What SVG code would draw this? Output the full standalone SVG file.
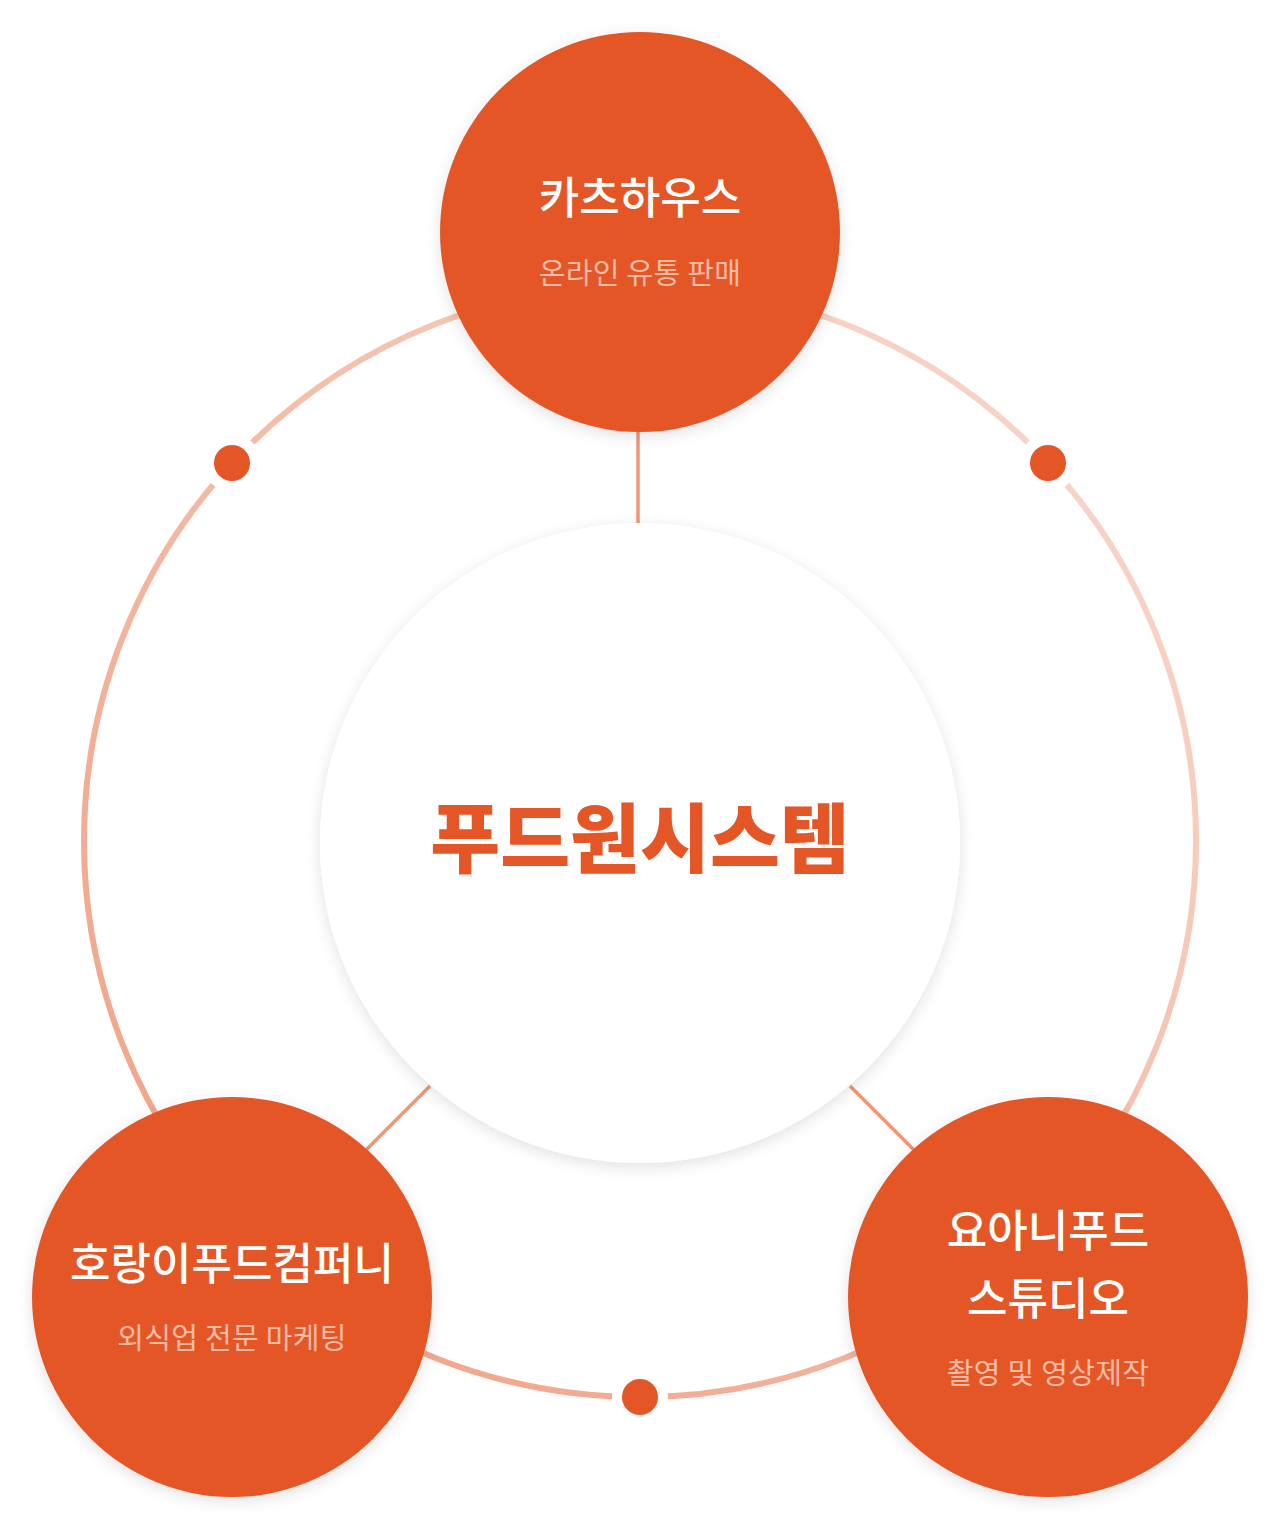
<svg xmlns="http://www.w3.org/2000/svg" width="1280" height="1530" viewBox="0 0 1280 1530">
<defs>
<linearGradient id="ringGrad" x1="0" y1="1" x2="1" y2="0">
<stop offset="0" stop-color="#f09e80"/>
<stop offset="0.5" stop-color="#f4bba6"/>
<stop offset="1" stop-color="#f9ddd2"/>
</linearGradient>
<filter id="shadow" x="-20%" y="-20%" width="140%" height="140%">
<feGaussianBlur in="SourceAlpha" stdDeviation="8"/>
<feOffset dx="0" dy="4"/>
<feComponentTransfer><feFuncA type="linear" slope="0.12"/></feComponentTransfer>
<feMerge><feMergeNode/><feMergeNode in="SourceGraphic"/></feMerge>
</filter>
<style>
.node{fill:#e55627;filter:url(#shadow);}
.title{font-family:"Noto Sans CJK KR","Noto Sans",sans-serif;font-weight:500;fill:#ffffff;font-size:44px;text-anchor:middle;}
.sub{font-family:"Noto Sans CJK KR","Noto Sans",sans-serif;font-weight:400;fill:#f7bca6;font-size:29px;text-anchor:middle;letter-spacing:0.3px;}
.conn{stroke:#f0977a;stroke-width:3.5;fill:none;}
.dot{fill:#e55627;}
.gap{fill:#ffffff;}
</style>
</defs>
<rect width="1280" height="1530" fill="#ffffff"/>
<g id="ring">
<circle cx="640" cy="841" r="556" fill="none" stroke="url(#ringGrad)" stroke-width="6"/>
<circle class="gap" cx="232" cy="463" r="29"/>
<circle class="gap" cx="1048" cy="463" r="29"/>
<circle class="gap" cx="640" cy="1397" r="28"/>
<circle class="dot" cx="232" cy="463" r="18"/>
<circle class="dot" cx="1048" cy="463" r="18"/>
<circle class="dot" cx="640" cy="1397" r="18"/>
</g>
<g id="connectors">
<line class="conn" x1="638" y1="430" x2="638" y2="523"/>
<line class="conn" x1="430" y1="1086" x2="366" y2="1150"/>
<line class="conn" x1="850" y1="1086" x2="914" y2="1150"/>
</g>
<g id="center">
<circle cx="640" cy="843" r="320" fill="#ffffff" filter="url(#shadow)"/>
<text x="640" y="867" font-family="'Noto Sans CJK KR',sans-serif" font-weight="900" font-size="76" fill="#e55627" text-anchor="middle">푸드원시스템</text>
</g>
<g id="node-top">
<circle class="node" cx="640" cy="232" r="200"/>
<text class="title" x="640" y="214">카츠하우스</text>
<text class="sub" x="640" y="284">온라인 유통 판매</text>
</g>
<g id="node-left">
<circle class="node" cx="232" cy="1297" r="200"/>
<text class="title" x="232" y="1280">호랑이푸드컴퍼니</text>
<text class="sub" x="232" y="1349">외식업 전문 마케팅</text>
</g>
<g id="node-right">
<circle class="node" cx="1048" cy="1297" r="200"/>
<text class="title" x="1048" y="1247">요아니푸드</text>
<text class="title" x="1048" y="1315">스튜디오</text>
<text class="sub" x="1048" y="1384">촬영 및 영상제작</text>
</g>
</svg>
